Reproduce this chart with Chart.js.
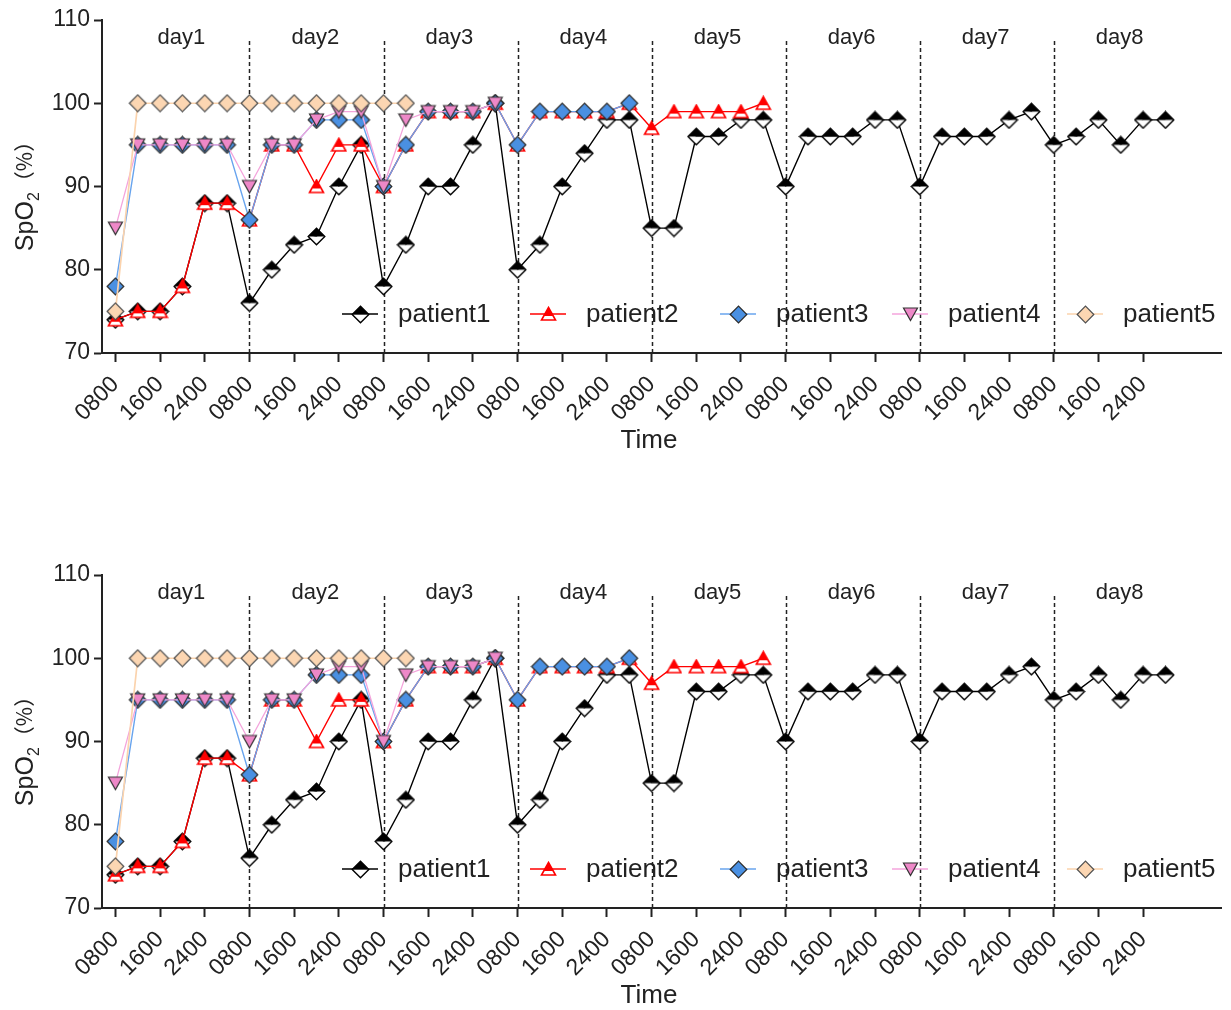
<!DOCTYPE html>
<html>
<head>
<meta charset="utf-8">
<title>SpO2 by patient</title>
<script src="https://cdn.jsdelivr.net/npm/chart.js@4.4.1/dist/chart.umd.min.js"></script>
<style>
  html, body { margin: 0; padding: 0; background: #ffffff; overflow: hidden; }
  .panel { position: absolute; left: 0; width: 1231px; height: 555px; }
</style>
</head>
<body>
<div class="panel" style="top:0"><canvas id="spo2Top" width="1231" height="555"></canvas></div>
<div class="panel" style="top:555px"><canvas id="spo2Bottom" width="1231" height="555"></canvas></div>
<script>
// ---- data -------------------------------------------------------------
const dayNames = ['day1', 'day2', 'day3', 'day4', 'day5', 'day6', 'day7', 'day8'];
// six readings per day, every four hours
const readingTimes = ['0800', '1200', '1600', '2000', '2400', '0400'];
const patientNames = ['patient1', 'patient2', 'patient3', 'patient4', 'patient5'];
const yTickValues = [70, 80, 90, 100, 110];

// SpO2 (%) per reading, starting day1 0800
const patient1 = [74, 75, 75, 78, 88, 88,  76, 80, 83, 84, 90, 95,  78, 83, 90, 90, 95, 100,
                  80, 83, 90, 94, 98, 98,  85, 85, 96, 96, 98, 98,  90, 96, 96, 96, 98, 98,
                  90, 96, 96, 96, 98, 99,  95, 96, 98, 95, 98, 98];
const patient2 = [74, 75, 75, 78, 88, 88,  86, 95, 95, 90, 95, 95,  90, 95, 99, 99, 99, 100,
                  95, 99, 99, 99, 99, 100, 97, 99, 99, 99, 99, 100];
const patient3 = [78, 95, 95, 95, 95, 95,  86, 95, 95, 98, 98, 98,  90, 95, 99, 99, 99, 100,
                  95, 99, 99, 99, 99, 100];
const patient4 = [85, 95, 95, 95, 95, 95,  90, 95, 95, 98, 99, 99,  90, 98, 99, 99, 99, 100];
const patient5 = [75, 100, 100, 100, 100, 100, 100, 100, 100, 100, 100, 100, 100, 100];

// ---- styling ----------------------------------------------------------
const FONT = '"Liberation Sans", Arial, Helvetica, sans-serif';
const INK = '#222222';
const readingsPerDay = readingTimes.length;
const totalReadings = dayNames.length * readingsPerDay;

function makeMarker(w, h, draw) {
  const c = document.createElement('canvas');
  c.width = w; c.height = h;
  draw(c.getContext('2d'), w, h);
  return c;
}

// diamond, top half black / bottom half white
const markerP1 = makeMarker(19, 19, (g) => {
  const c = 9.5, r = 8.3;
  g.beginPath(); g.moveTo(c - r, c); g.lineTo(c, c + r); g.lineTo(c + r, c); g.closePath();
  g.fillStyle = '#ffffff'; g.fill();
  g.beginPath(); g.moveTo(c - r, c); g.lineTo(c, c - r); g.lineTo(c + r, c); g.closePath();
  g.fillStyle = '#000000'; g.fill();
  g.beginPath(); g.moveTo(c - r, c); g.lineTo(c, c - r); g.lineTo(c + r, c); g.lineTo(c, c + r); g.closePath();
  g.lineWidth = 1.4; g.strokeStyle = '#000000'; g.stroke();
});

// triangle, top part red / bottom part white
const markerP2 = makeMarker(17, 16, (g) => {
  const tri = () => { g.beginPath(); g.moveTo(8.5, 1.5); g.lineTo(15.5, 14); g.lineTo(1.5, 14); g.closePath(); };
  tri(); g.fillStyle = '#ffffff'; g.fill();
  g.save(); tri(); g.clip(); g.fillStyle = '#ff0000'; g.fillRect(0, 0, 17, 10); g.restore();
  tri(); g.lineWidth = 1.6; g.strokeStyle = '#ff0000'; g.stroke();
});

const markerP3 = makeMarker(19, 19, (g) => {
  const c = 9.5, r = 8.3;
  g.beginPath(); g.moveTo(c - r, c); g.lineTo(c, c - r); g.lineTo(c + r, c); g.lineTo(c, c + r); g.closePath();
  g.fillStyle = '#4a90e2'; g.fill();
  g.lineWidth = 1.2; g.strokeStyle = '#2a2a2a'; g.stroke();
});

const markerP4 = makeMarker(17, 16, (g) => {
  g.beginPath(); g.moveTo(1.5, 2); g.lineTo(15.5, 2); g.lineTo(8.5, 14.5); g.closePath();
  g.fillStyle = '#ee88c8'; g.fill();
  g.lineWidth = 1.2; g.strokeStyle = '#333333'; g.stroke();
});

const markerP5 = makeMarker(19, 19, (g) => {
  const c = 9.5, r = 8.3;
  g.beginPath(); g.moveTo(c - r, c); g.lineTo(c, c - r); g.lineTo(c + r, c); g.lineTo(c, c + r); g.closePath();
  g.fillStyle = '#fcd6b2'; g.fill();
  g.lineWidth = 1.2; g.strokeStyle = '#505050'; g.stroke();
});

const seriesStyle = [
  { values: patient1, line: '#000000', width: 1.4, marker: markerP1, order: 5 },
  { values: patient2, line: '#ff0000', width: 1.4, marker: markerP2, order: 4 },
  { values: patient3, line: '#68a4ee', width: 1.4, marker: markerP3, order: 3 },
  { values: patient4, line: '#f4a4dc', width: 1.3, marker: markerP4, order: 2 },
  { values: patient5, line: '#fbd3ad', width: 1.7, marker: markerP5, order: 1 }
];

// ---- plugins ----------------------------------------------------------
const dayDividers = {
  id: 'dayDividers',
  beforeDatasetsDraw(chart) {
    const { ctx, scales: { x, y } } = chart;
    ctx.save();
    ctx.strokeStyle = INK;
    ctx.lineWidth = 1.5;
    ctx.setLineDash([4, 3]);
    for (let d = 1; d < dayNames.length; d++) {
      const px = Math.round(x.getPixelForValue(d * readingsPerDay)) + 0.5;
      ctx.beginPath();
      ctx.moveTo(px, y.getPixelForValue(70));
      ctx.lineTo(px, y.getPixelForValue(107.6));
      ctx.stroke();
    }
    ctx.setLineDash([]);
    ctx.fillStyle = INK;
    ctx.font = '22px ' + FONT;
    ctx.textAlign = 'center';
    ctx.textBaseline = 'middle';
    dayNames.forEach((name, d) => {
      ctx.fillText(name, x.getPixelForValue(d * readingsPerDay + 2.95), y.getPixelForValue(107.8));
    });
    ctx.restore();
  }
};

const legendStarts = [342, 530, 720, 892, 1067];
const legendRow = {
  id: 'legendRow',
  afterDatasetsDraw(chart) {
    const { ctx } = chart;
    const ly = 314;
    ctx.save();
    ctx.font = '26px ' + FONT;
    ctx.textBaseline = 'middle';
    ctx.textAlign = 'left';
    chart.data.datasets.forEach((ds, k) => {
      const lx = legendStarts[k];
      ctx.strokeStyle = ds.borderColor;
      ctx.lineWidth = ds.borderWidth;
      ctx.beginPath();
      ctx.moveTo(lx, ly);
      ctx.lineTo(lx + 36, ly);
      ctx.stroke();
      const m = ds.pointStyle;
      ctx.drawImage(m, Math.round(lx + 18 - m.width / 2), Math.round(ly - m.height / 2));
      ctx.fillStyle = INK;
      ctx.fillText(ds.label, lx + 56, ly + 1);
    });
    ctx.restore();
  }
};

const axisTitles = {
  id: 'axisTitles',
  afterDraw(chart) {
    const { ctx } = chart;
    ctx.save();
    ctx.fillStyle = INK;
    ctx.textBaseline = 'middle';
    ctx.textAlign = 'center';
    ctx.font = '26px ' + FONT;
    ctx.fillText('Time', 649, 441);

    // vertical title: SpO + subscript 2 + (%)
    const mainFont = '25px ' + FONT;
    const subFont = '16px ' + FONT;
    const unitFont = '21px "Noto Sans CJK SC", ' + FONT;
    ctx.font = mainFont; const w1 = ctx.measureText('SpO').width;
    ctx.font = subFont; const w2 = ctx.measureText('2').width;
    ctx.font = unitFont; const w3 = ctx.measureText('（%）').width;
    const total = w1 + w2 + w3;
    ctx.translate(33, 191);
    ctx.rotate(-Math.PI / 2);
    ctx.textAlign = 'left';
    ctx.textBaseline = 'alphabetic';
    let cx = -total / 2;
    ctx.font = mainFont; ctx.fillText('SpO', cx, 0); cx += w1;
    ctx.font = subFont; ctx.fillText('2', cx, 6); cx += w2;
    ctx.font = unitFont; ctx.fillText('（%）', cx, -1);
    ctx.restore();
  }
};

// ---- chart ------------------------------------------------------------
const xTickIndices = [];
for (let i = 0; i < totalReadings - 1; i += 2) xTickIndices.push(i);

function buildChart(canvas) {
  return new Chart(canvas, {
    type: 'line',
    data: {
      datasets: seriesStyle.map((s, k) => ({
        label: patientNames[k],
        data: s.values.map((v, i) => ({ x: i, y: v })),
        borderColor: s.line,
        borderWidth: s.width,
        backgroundColor: s.line,
        pointStyle: s.marker,
        pointRadius: 8,
        pointHoverRadius: 8,
        tension: 0,
        fill: false,
        order: s.order
      }))
    },
    options: {
      responsive: false,
      animation: false,
      events: [],
      layout: { padding: { top: 20, right: 3, left: 0, bottom: 0 } },
      plugins: { legend: { display: false }, tooltip: { enabled: false }, title: { display: false } },
      scales: {
        x: {
          type: 'linear',
          min: -0.6,
          max: 49.5,
          afterBuildTicks: (s) => { s.ticks = xTickIndices.map(v => ({ value: v })); },
          afterFit: (s) => { s.height = 202; },
          grid: { display: true, drawOnChartArea: false, drawTicks: true, tickLength: 9, tickWidth: 2, tickColor: INK },
          border: { display: true, color: INK, width: 2 },
          ticks: {
            autoSkip: false,
            maxRotation: 45,
            minRotation: 45,
            padding: 9,
            color: INK,
            font: { family: FONT, size: 23 },
            callback: (v) => readingTimes[Math.round(v) % readingsPerDay]
          }
        },
        y: {
          min: 70,
          max: 110,
          afterBuildTicks: (s) => { s.ticks = yTickValues.map(v => ({ value: v })); },
          afterFit: (s) => { s.width = 102; },
          grid: { display: true, drawOnChartArea: false, drawTicks: true, tickLength: 8, tickWidth: 2, tickColor: INK },
          border: { display: true, color: INK, width: 2 },
          ticks: {
            padding: 4,
            color: INK,
            font: { family: FONT, size: 23 },
            callback: (v) => String(v)
          }
        }
      }
    },
    plugins: [dayDividers, legendRow, axisTitles]
  });
}

buildChart(document.getElementById('spo2Top'));
buildChart(document.getElementById('spo2Bottom'));
</script>
</body>
</html>
